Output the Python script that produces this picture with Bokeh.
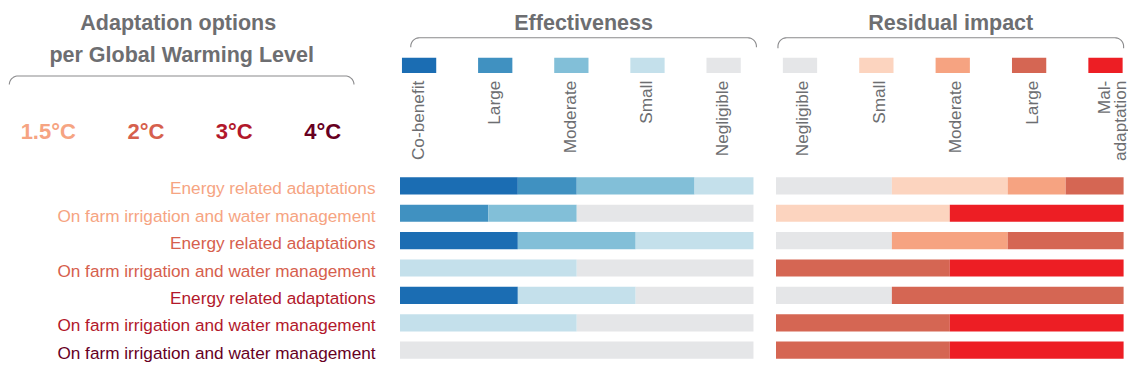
import numpy as np
from bokeh.plotting import figure
from bokeh.models import Range1d, ColumnDataSource
from bokeh.embed import file_html
from bokeh.resources import INLINE
from bokeh.core.properties import value

# ---------------- data ----------------
row_labels = [
    "Energy related adaptations",
    "On farm irrigation and water management",
    "Energy related adaptations",
    "On farm irrigation and water management",
    "Energy related adaptations",
    "On farm irrigation and water management",
    "On farm irrigation and water management",
]
row_gwl = ["1.5°C", "1.5°C", "2°C", "2°C", "3°C", "3°C", "4°C"]
gwl_levels = ["1.5°C", "2°C", "3°C", "4°C"]
gwl_colors = ["#f6a482", "#d6604d", "#b2182b", "#67001f"]

eff_levels = ["Co-benefit", "Large", "Moderate", "Small", "Negligible"]
eff_colors = ["#1b6db3", "#4091c1", "#82bfd8", "#c4e0eb", "#e5e6e8"]
eff_cobenefit = [2, 0, 2, 0, 2, 0, 0]
eff_large = [1, 1.5, 0, 0, 0, 0, 0]
eff_moderate = [2, 1.5, 2, 0, 0, 0, 0]
eff_small = [1, 0, 2, 3, 2, 3, 0]
eff_negligible = [0, 3, 0, 3, 2, 3, 6]

res_levels = ["Negligible", "Small", "Moderate", "Large", "Mal-adaptation"]
res_legend_lines = [["Negligible"], ["Small"], ["Moderate"], ["Large"], ["Mal-", "adaptation"]]
res_colors = ["#e5e6e8", "#fcd4bf", "#f6a381", "#d56653", "#ed1e24"]
res_negligible = [2, 0, 2, 0, 2, 0, 0]
res_small = [2, 3, 0, 0, 0, 0, 0]
res_moderate = [1, 0, 2, 0, 0, 0, 0]
res_large = [1, 0, 2, 3, 4, 3, 3]
res_mal = [0, 3, 0, 3, 0, 3, 3]

title_left = ["Adaptation options", "per Global Warming Level"]
title_eff = "Effectiveness"
title_res = "Residual impact"

# ---------------- layout (image-pixel frame) ----------------
X_MIN, X_MAX = 0, 1152
Y_TOP, Y_BOT = 8, 389
FONT = "Liberation Sans"
GREY = "#6d6e71"

p = figure(width=1128, height=364, x_range=Range1d(X_MIN, X_MAX), y_range=Range1d(Y_BOT, Y_TOP),
           output_backend="svg", toolbar_location=None, min_border=0, title=None,
           x_axis_location=None, y_axis_location=None)
p.grid.visible = False
p.outline_line_color = None
p.background_fill_color = "white"
p.border_fill_color = "white"

n_rows = len(row_labels)
units = 6.0
eff_x0, eff_x1 = 408, 769
res_x0, res_x1 = 792, 1147
s_e = (eff_x1 - eff_x0) / units
s_r = (res_x1 - res_x0) / units
row_y0, row_gap = 202.0, 28.67
p.extra_x_ranges = {
    "eff": Range1d(start=(X_MIN - eff_x0) / s_e, end=(X_MAX - eff_x0) / s_e),
    "res": Range1d(start=(X_MIN - res_x0) / s_r, end=(X_MAX - res_x0) / s_r),
}
p.extra_y_ranges = {"rows": Range1d(start=(Y_BOT - row_y0) / row_gap, end=(Y_TOP - row_y0) / row_gap)}
bar_h = 18 / row_gap

idx = list(range(n_rows))


def stacked(levels_vals, colors, xr):
    left = np.zeros(n_rows)
    for vals, col in zip(levels_vals, colors):
        v = np.array(vals, dtype=float)
        src = ColumnDataSource(dict(y=idx, left=left.copy(), right=left + v))
        p.hbar(y="y", left="left", right="right", height=bar_h, source=src,
               fill_color=col, line_color=None, x_range_name=xr, y_range_name="rows")
        left = left + v


stacked([eff_cobenefit, eff_large, eff_moderate, eff_small, eff_negligible], eff_colors, "eff")
stacked([res_negligible, res_small, res_moderate, res_large, res_mal], res_colors, "res")

# row labels
row_colors = [gwl_colors[gwl_levels.index(g)] for g in row_gwl]
p.text(x=[383] * n_rows, y=idx, text=row_labels, text_color=row_colors,
       text_font=value(FONT), text_font_size="17.2px", text_align="right",
       text_baseline="alphabetic", y_offset=2.5, y_range_name="rows")

# GWL labels
gx = [77 + i * 90.3 for i in range(len(gwl_levels))]
p.text(x=gx, y=[145] * len(gx), text=gwl_levels, text_color=gwl_colors,
       text_font=value(FONT), text_font_size="22px", text_font_style="bold",
       text_align="right", text_baseline="alphabetic")

# titles
p.text(x=[181.5, 185], y=[32, 65], text=title_left, text_color=GREY,
       text_font=value(FONT), text_font_size="21.5px", text_font_style="bold",
       text_align="center", text_baseline="alphabetic")
p.text(x=[595.5, 970.5], y=[32, 32], text=[title_eff, title_res], text_color=GREY,
       text_font=value(FONT), text_font_size="21.5px", text_font_style="bold",
       text_align="center", text_baseline="alphabetic")


# brackets
def bracket(x0, x1, ytop, ybot, r=9):
    t = np.linspace(0, np.pi / 2, 12)
    lx = x0 + r - r * np.cos(t)
    ly = ytop + r - r * np.sin(t)
    rx = x1 - r + r * np.sin(t)
    ry = ytop + r - r * np.cos(t)
    xs = [x0] + list(lx) + list(rx) + [x1]
    ys = [ybot] + list(ly) + list(ry) + [ybot]
    p.line(xs, ys, line_color="#8a8a8c", line_width=1.1)


bracket(9, 361, 87, 96)
bracket(419, 772, 47, 57)
bracket(794, 1147, 47, 58)

# legend swatches
sw_w, sw_top, sw_bot = 35, 68, 84
eff_sw_left = [410 + i * 77.75 for i in range(5)]
res_sw_left = [799 + i * 78.0 for i in range(5)]
p.quad(left=eff_sw_left, right=[l + sw_w for l in eff_sw_left], top=[sw_top] * 5, bottom=[sw_bot] * 5,
       fill_color=eff_colors, line_color=None)
p.quad(left=res_sw_left, right=[l + sw_w for l in res_sw_left], top=[sw_top] * 5, bottom=[sw_bot] * 5,
       fill_color=res_colors, line_color=None)

# legend labels (rotated)
lab_kw = dict(text_color=GREY, text_font=value(FONT), text_font_size="17.2px",
              text_align="right", text_baseline="alphabetic", angle=np.pi / 2)
eff_lab_x = [l + 16 for l in eff_sw_left]
p.text(x=eff_lab_x, y=[92] * 5, text=eff_levels, **lab_kw)
rx, ry, rt = [], [], []
for i, lines in enumerate(res_legend_lines):
    base = res_sw_left[i] + 20 if len(lines) == 1 else res_sw_left[i] + 15.5
    for j, ln in enumerate(lines):
        rx.append(base + j * 16.5)
        ry.append(92)
        rt.append(ln)
p.text(x=rx, y=ry, text=rt, **lab_kw)

open("out.html", "w").write(file_html(p, INLINE))
